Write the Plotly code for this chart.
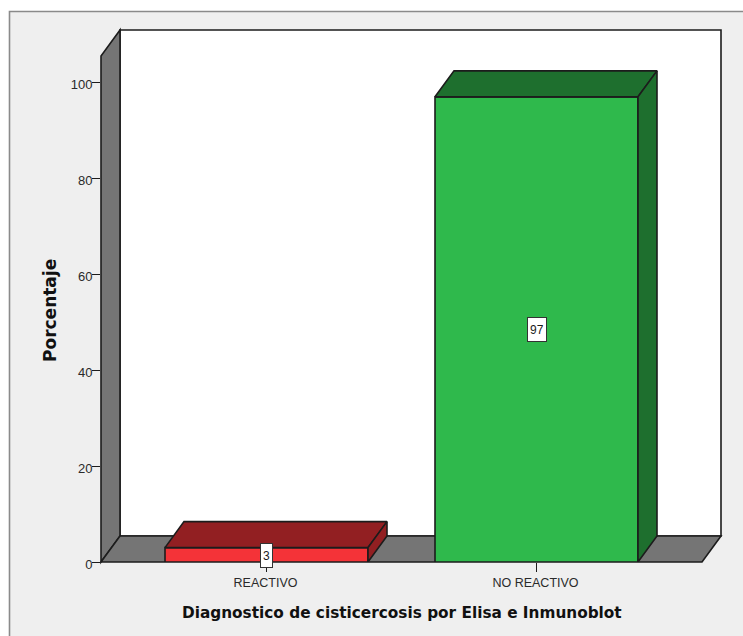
import plotly.graph_objects as go

# Chart values
categories = ["REACTIVO", "NO REACTIVO"]
percentages = [3, 97]
front_colors = ["#f43338", "#2fb94c"]
shade_colors = ["#921f22", "#1e6f2e"]
y_ticks = [0, 20, 40, 60, 80, 100]

FONT = "Liberation Sans"
TITLE_FONT = "DejaVu Sans"
INK = "#1c1c1c"
WIDTH, HEIGHT = 743, 636

# Plot area in pixels and the axis scales that follow from it
LEFT, RIGHT, TOP, BOTTOM = 101, 721, 30, 562.5
PX_PER_CATEGORY = 270
PX_PER_PERCENT = 4.8
FIRST_CATEGORY_PX = 266.5
DEPTH_X_PX, DEPTH_Y_PX = 19, 26
BAR_WIDTH_PX = 203

x_range = [(LEFT - FIRST_CATEGORY_PX) / PX_PER_CATEGORY,
           (RIGHT - FIRST_CATEGORY_PX) / PX_PER_CATEGORY]
y_range = [0, (BOTTOM - TOP) / PX_PER_PERCENT]
depth_x = DEPTH_X_PX / PX_PER_CATEGORY
depth_y = DEPTH_Y_PX / PX_PER_PERCENT
half_bar = BAR_WIDTH_PX / 2 / PX_PER_CATEGORY
positions = list(range(len(categories)))

fig = go.Figure()

# Front faces of the columns
fig.add_trace(go.Bar(
    x=positions, y=percentages, width=2 * half_bar,
    marker=dict(color=front_colors, line=dict(color=INK, width=1.6)),
    cliponaxis=False, hoverinfo="skip", showlegend=False,
))

# Extruded top and side faces
for pos, value, shade in zip(positions, percentages, shade_colors):
    left, right = pos - half_bar, pos + half_bar
    faces = [
        ([left, right, right + depth_x, left + depth_x, left],
         [value, value, value + depth_y, value + depth_y, value]),
        ([right, right + depth_x, right + depth_x, right, right],
         [0, depth_y, value + depth_y, value, 0]),
    ]
    for xs, ys in faces:
        fig.add_trace(go.Scatter(
            x=xs, y=ys, mode="lines", fill="toself", fillcolor=shade,
            line=dict(color=INK, width=1.6), cliponaxis=False,
            hoverinfo="skip", showlegend=False,
        ))


def polygon(points):
    return "M " + " L ".join(f"{x:.5f},{y:.5f}" for x, y in points) + " Z"


# Box walls, in fractions of the plot area
dx = DEPTH_X_PX / (RIGHT - LEFT)
dy = DEPTH_Y_PX / (BOTTOM - TOP)
wall_line = dict(color=INK, width=1.6)
walls = [
    ("#ffffff", [(dx, dy), (1, dy), (1, 1), (dx, 1)]),
    ("#757575", [(0, 0), (dx, dy), (dx, 1), (0, 1 - dy)]),
    ("#757575", [(0, 0), (1 - dx, 0), (1, dy), (dx, dy)]),
]
shapes = [dict(
    type="rect", xref="paper", yref="paper", layer="below",
    x0=(9.5 - LEFT) / (RIGHT - LEFT), x1=(WIDTH + 10 - LEFT) / (RIGHT - LEFT),
    y0=(BOTTOM - HEIGHT - 10) / (BOTTOM - TOP), y1=(BOTTOM - 11.5) / (BOTTOM - TOP),
    fillcolor="#efefef", line=dict(color="#8a8a8a", width=1.6),
)]
for fill, pts in walls:
    shapes.append(dict(type="path", xref="paper", yref="paper", layer="below",
                       path=polygon(pts), fillcolor=fill, line=wall_line))

# Boxed value labels at mid-height of each column
annotations = [
    dict(x=pos, y=value / 2, xref="x", yref="y", text=str(value), showarrow=False,
         xanchor="center", yanchor="middle", height=19, yshift=-0.5,
         font=dict(family=FONT, size=12, color=INK),
         bgcolor="#ffffff", bordercolor="#333333", borderwidth=1, borderpad=2)
    for pos, value in zip(positions, percentages)
]

# Axis titles centred on the front plane of the box
annotations.append(dict(
    x=(x_range[0] + x_range[1] - depth_x) / 2, y=0, xref="x", yref="paper",
    yshift=-51, text="<b>Diagnostico de cisticercosis por Elisa e Inmunoblot</b>",
    showarrow=False, xanchor="center", yanchor="middle",
    font=dict(family=TITLE_FONT, size=15.3, color="#111111"),
))
annotations.append(dict(
    x=0, xref="paper", xshift=-51, y=(1 - dy) / 2, yref="paper", yshift=-2,
    text="<b>Porcentaje</b>", textangle=-90,
    showarrow=False, xanchor="center", yanchor="middle",
    font=dict(family=TITLE_FONT, size=17, color="#111111"),
))

fig.update_layout(
    width=WIDTH, height=HEIGHT, autosize=False,
    margin=dict(l=LEFT, r=WIDTH - RIGHT, t=TOP, b=HEIGHT - BOTTOM, pad=0),
    paper_bgcolor="#ffffff", plot_bgcolor="rgba(0,0,0,0)",
    shapes=shapes, annotations=annotations,
    xaxis=dict(
        range=x_range, tickmode="array", tickvals=positions, ticktext=categories,
        ticks="outside", ticklen=9, tickwidth=1.4, tickcolor=INK,
        tickfont=dict(family=FONT, size=12.5, color="#2a2a2a"), ticklabelshift=-1,
        showgrid=False, zeroline=False, showline=False, fixedrange=True,
    ),
    yaxis=dict(
        range=y_range, tickmode="array", tickvals=y_ticks,
        ticks="outside", ticklen=8, tickwidth=1.4, tickcolor=INK,
        tickfont=dict(family=FONT, size=13, color="#2a2a2a"),
        ticklabelstandoff=-3, ticklabelshift=2,
        showgrid=False, zeroline=False, showline=False, fixedrange=True,
    ),
)

fig.write_html("out.html", config=dict(displayModeBar=False))
